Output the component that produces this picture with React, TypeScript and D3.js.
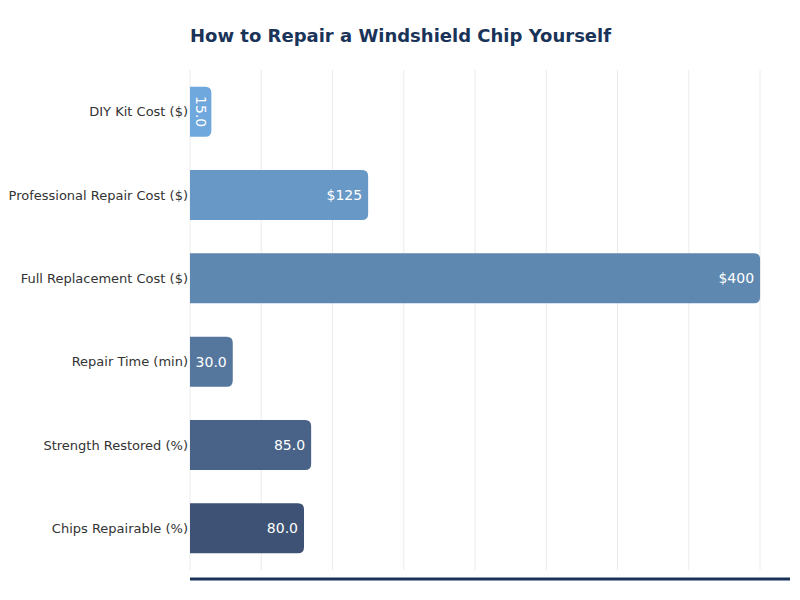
import React from "react";
import * as d3 from "d3";

const categories = [
  "DIY Kit Cost ($)",
  "Professional Repair Cost ($)",
  "Full Replacement Cost ($)",
  "Repair Time (min)",
  "Strength Restored (%)",
  "Chips Repairable (%)",
];
const values = [15, 125, 400, 30, 85, 80];
const valueLabels = ["15.0", "$125", "$400", "30.0", "85.0", "80.0"];
const barColors = ["#6fa8dc", "#6899c6", "#5e88b0", "#55769d", "#486387", "#3d5274"];
const gridTicks = [0, 50, 100, 150, 200, 250, 300, 350, 400];

const W = 800;
const H = 600;
const left = 190;
const right = 790;
const top = 70;
const bottom = 570;

export default function App() {
  const x = d3.scaleLinear().domain([0, 421]).range([left, right]);
  const y = d3.scaleBand<string>().domain(categories).range([top, bottom]).paddingInner(0.4).paddingOuter(0.2);
  const r = 6;
  const barPath = (w: number, y0: number, h: number) => {
    const rr = Math.min(r, w / 2, h / 2);
    return `M${left},${y0}H${left + w - rr}Q${left + w},${y0} ${left + w},${y0 + rr}V${y0 + h - rr}Q${left + w},${y0 + h} ${left + w - rr},${y0 + h}H${left}Z`;
  };
  return (
    <svg width={W} height={H} style={{ position: "absolute", left: 0, top: 0, background: "#fff" }} fontFamily="DejaVu Sans, sans-serif">
      <rect width={W} height={H} fill="#fff" />
      <text x={190} y={42} fontSize={18} fontWeight="bold" fill="#1a3358">
        How to Repair a Windshield Chip Yourself
      </text>
      {gridTicks.map((t) => (
        <line key={t} x1={x(t)} x2={x(t)} y1={top} y2={bottom} stroke="#ebebeb" strokeWidth={1} />
      ))}
      {categories.map((c, i) => {
        const y0 = y(c)!;
        const h = y.bandwidth();
        const w = x(values[i]) - left;
        const cy = y0 + h / 2;
        const small = w < 30;
        return (
          <g key={c}>
            <path d={barPath(w, y0, h)} fill={barColors[i]} />
            <text x={left - 2} y={cy} dy="0.35em" textAnchor="end" fontSize={13} fill="#333">
              {c}
            </text>
            {small ? (
              <text
                transform={`translate(${left + w / 2},${cy}) rotate(90)`}
                textAnchor="middle"
                dy="0.35em"
                fontSize={14}
                fill="#fff"
              >
                {valueLabels[i]}
              </text>
            ) : (
              <text x={left + w - 6} y={cy} dy="0.35em" textAnchor="end" fontSize={14} fill="#fff">
                {valueLabels[i]}
              </text>
            )}
          </g>
        );
      })}
      <line x1={left} x2={right} y1={579} y2={579} stroke="#1a3358" strokeWidth={3} />
    </svg>
  );
}
